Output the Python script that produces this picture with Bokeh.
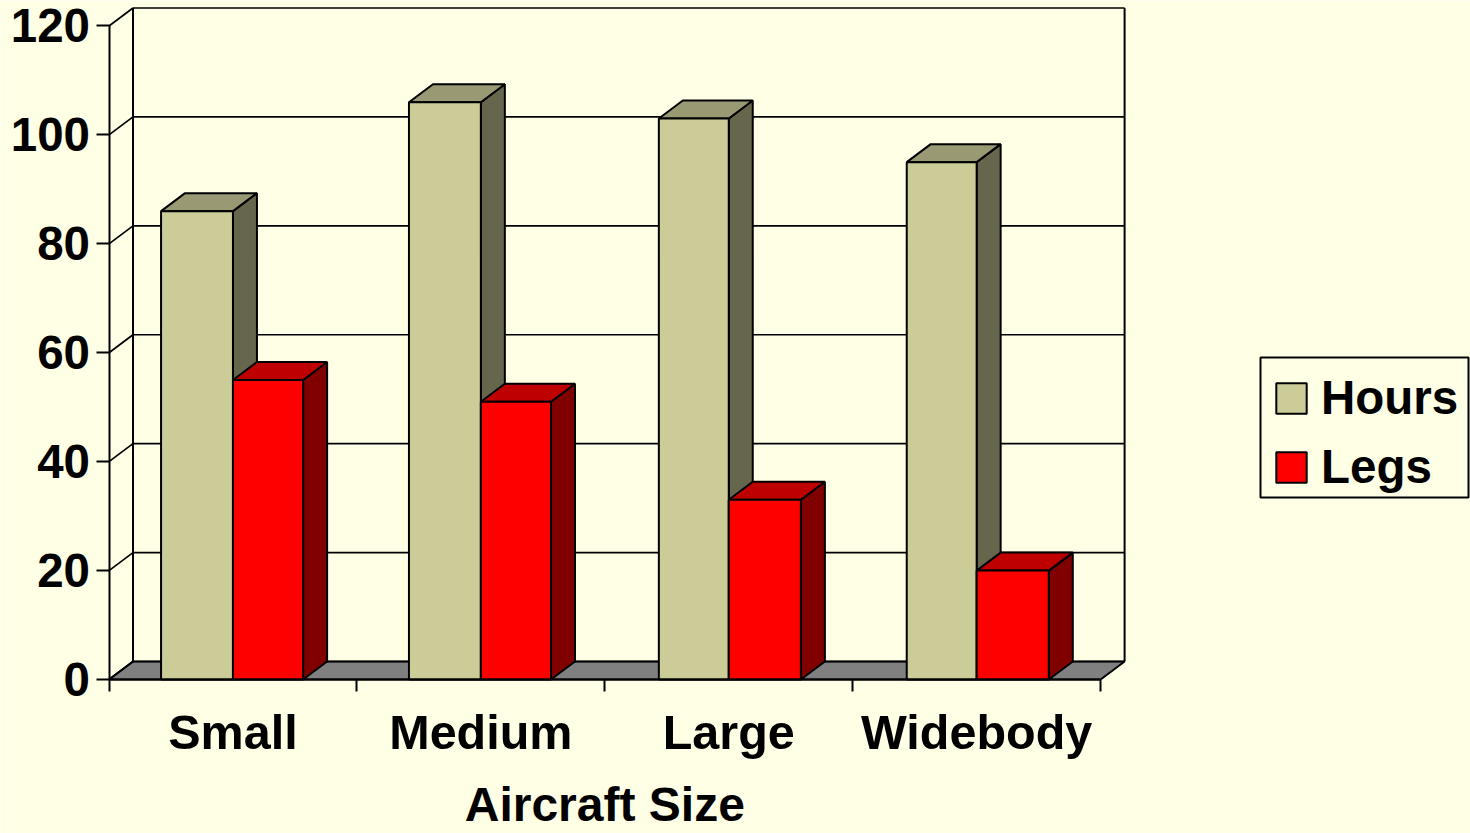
from bokeh.plotting import figure
from bokeh.models import (ColumnDataSource, FixedTicker, Label, Legend, LegendItem,
                          BoxAnnotation, LinearAxis, Range1d)
from bokeh.embed import file_html
from bokeh.resources import INLINE

categories = ["Small", "Medium", "Large", "Widebody"]
hours = [86, 106, 103, 95]
legs = [55, 51, 33, 20]
y_ticks = [0, 20, 40, 60, 80, 100, 120]
legend_names = ["Hours", "Legs"]
x_title = "Aircraft Size"

BG = "#FFFFE5"
FONT = "Liberation Sans"
FS = "47.5px"
FS_CAT = "48.5px"
FS_TITLE = "48px"
LW = 2
GRID_LW = 1.7
PX_X = 247.9
PX_Y = 5.446
DX = 24 / PX_X
DY = 18 / PX_Y

W, H = 1470, 833
L, B = 108.5, 154
p = figure(width=W, height=H, output_backend="svg", toolbar_location=None,
           x_range=Range1d(-L / PX_X, (W - L) / PX_X), y_range=Range1d(-B / PX_Y, (H - B) / PX_Y),
           x_axis_location=None, y_axis_location=None,
           min_border_left=0, min_border_right=0, min_border_top=0, min_border_bottom=0,
           background_fill_color=BG, border_fill_color=BG, margin=0)
p.outline_line_color = None
p.grid.visible = False

# floor
nc = len(categories)
p.patch([0, DX, nc + DX, nc], [0, DY, DY, 0], fill_color="#808080", line_color="black", line_width=LW)

# back wall and side wall lines
top = y_ticks[-1]
p.segment(x0=[DX + 0 for _ in y_ticks], y0=[t + DY for t in y_ticks],
          x1=[nc + DX for _ in y_ticks], y1=[t + DY for t in y_ticks], line_color="black", line_width=GRID_LW)
p.segment(x0=[0 for _ in y_ticks], y0=y_ticks, x1=[DX for _ in y_ticks], y1=[t + DY for t in y_ticks],
          line_color="black", line_width=GRID_LW)
p.segment(x0=[DX, nc + DX], y0=[DY, DY], x1=[DX, nc + DX], y1=[top + DY, top + DY],
          line_color="black", line_width=LW)


def bars(values, lefts, rights, face, top_c, side):
    xs_side, ys_side, xs_top, ys_top = [], [], [], []
    for i, v in enumerate(values):
        a, b = i + lefts[i], i + rights[i]
        xs_side.append([b, b + DX, b + DX, b])
        ys_side.append([0, DY, v + DY, v])
        xs_top.append([a, a + DX, b + DX, b])
        ys_top.append([v, v + DY, v + DY, v])
    p.patches(xs_side, ys_side, fill_color=side, line_color="black", line_width=LW)
    p.patches(xs_top, ys_top, fill_color=top_c, line_color="black", line_width=LW)
    src = ColumnDataSource(dict(l=[i + lefts[i] for i in range(nc)], r=[i + rights[i] for i in range(nc)],
                                t=values, b=[0] * nc))
    return p.quad(left="l", right="r", top="t", bottom="b", source=src, fill_color=face,
                  line_color="black", line_width=LW)


centre = [0.5] * nc
r_hours = bars(hours, (0.21, 0.21, 0.218, 0.218), centre, "#CCCC99", "#999973", "#66664D")
r_legs = bars(legs, centre, (0.783, 0.783, 0.791, 0.791), "#FF0000", "#BF0000", "#800000")

# axes
yaxis = LinearAxis(ticker=FixedTicker(ticks=y_ticks), bounds=(0, top), fixed_location=0)
yaxis.major_tick_out = 13
yaxis.major_tick_in = 0
yaxis.minor_tick_out = 0
yaxis.minor_tick_in = 0
yaxis.major_tick_line_width = LW
yaxis.axis_line_width = LW
yaxis.major_tick_line_color = "black"
yaxis.axis_line_color = "black"
yaxis.major_label_text_font = FONT
yaxis.major_label_text_font_style = "bold"
yaxis.major_label_text_font_size = FS
yaxis.major_label_text_color = "black"
yaxis.major_label_standoff = 6
p.add_layout(yaxis, "left")

mid = [i + 0.5 for i in range(nc)]
xaxis = LinearAxis(ticker=FixedTicker(ticks=mid, minor_ticks=list(range(nc + 1))), bounds=(0, nc), fixed_location=0)
xaxis.major_label_overrides = {m: c for m, c in zip(mid, categories)}
xaxis.major_tick_out = 0
xaxis.major_tick_in = 0
xaxis.minor_tick_out = 12
xaxis.minor_tick_in = 0
xaxis.minor_tick_line_width = LW
xaxis.minor_tick_line_color = "black"
xaxis.axis_line_width = LW
xaxis.axis_line_color = "black"
xaxis.major_label_text_font = FONT
xaxis.major_label_text_font_style = "bold"
xaxis.major_label_text_font_size = FS_CAT
xaxis.major_label_text_color = "black"
xaxis.major_label_standoff = 13
p.add_layout(xaxis, "below")

p.add_layout(Label(x=nc / 2, y=-125 / PX_Y, x_units="data", y_units="data", text=x_title,
                   text_font=FONT, text_font_style="bold", text_font_size=FS_TITLE, text_color="black",
                   text_align="center", text_baseline="middle"))

# legend
p.add_layout(BoxAnnotation(left=1260, right=1468, top=357, bottom=497, left_units="canvas", right_units="canvas",
                           top_units="canvas", bottom_units="canvas", fill_color=BG, fill_alpha=1,
                           line_color="black", line_alpha=1, line_width=LW, level="annotation"))
legend = Legend(items=[LegendItem(label=legend_names[0], renderers=[r_hours]),
                       LegendItem(label=legend_names[1], renderers=[r_legs])],
                location=(1272, 339), margin=0, padding=12, spacing=14,
                glyph_width=38, glyph_height=38, label_standoff=11,
                background_fill_alpha=0, border_line_color=None,
                label_text_font=FONT, label_text_font_style="bold", label_text_font_size=FS,
                label_text_color="black")
p.add_layout(legend)

open("out.html", "w").write(file_html(p, INLINE))
